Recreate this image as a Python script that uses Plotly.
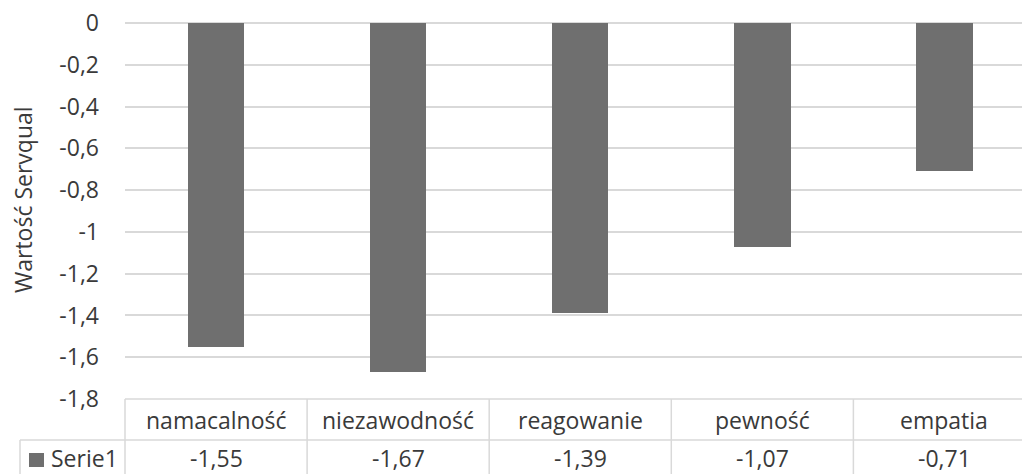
import plotly.graph_objects as go

# Servqual gap per dimension
categories = ["namacalność", "niezawodność", "reagowanie", "pewność", "empatia"]
series_name = "Serie1"
values = [-1.55, -1.67, -1.39, -1.07, -0.71]

tick_vals = [0, -0.2, -0.4, -0.6, -0.8, -1.0, -1.2, -1.4, -1.6, -1.8]
tick_text = ["0", "-0,2", "-0,4", "-0,6", "-0,8", "-1", "-1,2", "-1,4", "-1,6", "-1,8"]

W, H = 1022, 474
M_L, M_R, M_T, M_B = 125, 0, 23, 75
PLOT_H = H - M_T - M_B

FONT = "Open Sans"
TXT = "#3a3a3a"
GRID = "#d9d9d9"
BAR = "#6f6f6f"
FS = 23


def py(y_px):
    """Pixel row (from top of page) -> paper y."""
    return (H - M_B - y_px) / PLOT_H


def px(x_px):
    """Pixel column -> paper x."""
    return (x_px - M_L) / (W - M_L - M_R)


fig = go.Figure(
    go.Bar(
        x=list(range(len(categories))),
        y=values,
        width=0.31,
        marker=dict(color=BAR, line=dict(width=0)),
        name=series_name,
        showlegend=False,
    )
)

# data table under the plot
row1_bot = 440
tab_bot = 478
shapes = []
line = dict(color=GRID, width=1.5)
# top edge of table header
shapes.append(dict(type="line", xref="paper", yref="paper", x0=0, x1=1,
                   y0=py(399), y1=py(399), line=line))
# separator between header row and value row
shapes.append(dict(type="line", xref="paper", yref="paper", x0=px(20), x1=1,
                   y0=py(row1_bot), y1=py(row1_bot), line=line))
# left edge of value row
shapes.append(dict(type="line", xref="paper", yref="paper", x0=px(20), x1=px(20),
                   y0=py(row1_bot), y1=py(tab_bot), line=line))
# left edge of category columns
shapes.append(dict(type="line", xref="paper", yref="paper", x0=0, x1=0,
                   y0=py(399), y1=py(tab_bot), line=line))
# column separators
for i in range(len(categories) - 1):
    shapes.append(dict(type="line", xref="x", yref="paper", x0=i + 0.5, x1=i + 0.5,
                       y0=py(399), y1=py(tab_bot), line=line))
# legend key
shapes.append(dict(type="rect", xref="paper", yref="paper", x0=px(29), x1=px(44),
                   y0=py(467), y1=py(453), fillcolor=BAR, line=dict(width=0)))

txt_font = dict(family=FONT, size=FS, color=TXT)
annotations = []
for i, (c, v) in enumerate(zip(categories, values)):
    annotations.append(dict(x=i, y=py(420), xref="x", yref="paper", text=c,
                            yanchor="middle", showarrow=False, font=txt_font))
    annotations.append(dict(x=i, y=py(458), xref="x", yref="paper",
                            text=f"{v:.2f}".replace(".", ","),
                            yanchor="middle", showarrow=False, font=txt_font))
annotations.append(dict(x=px(49), y=py(458), xref="paper", yref="paper", text=series_name,
                        xanchor="left", yanchor="middle", showarrow=False, font=txt_font))
annotations.append(dict(x=px(23), y=py(200), xref="paper", yref="paper",
                        text="Wartość Servqual", textangle=-90,
                        xanchor="center", yanchor="middle", showarrow=False, font=txt_font))

fig.update_layout(
    width=W, height=H,
    margin=dict(l=M_L, r=M_R, t=M_T, b=M_B, pad=0),
    paper_bgcolor="white", plot_bgcolor="white",
    font=txt_font,
    shapes=shapes,
    annotations=annotations,
    xaxis=dict(range=[-0.5, 4.426], showticklabels=False, showgrid=False,
               zeroline=False, showline=False, ticks=""),
    yaxis=dict(range=[-1.8, 0], tickvals=tick_vals, ticktext=tick_text,
               showgrid=True, gridcolor=GRID, gridwidth=1.5,
               zeroline=True, zerolinecolor=GRID, zerolinewidth=1.5,
               showline=False, ticks="", ticklabelstandoff=25,
               tickfont=txt_font),
    bargap=0,
)

fig.write_html("out.html")
